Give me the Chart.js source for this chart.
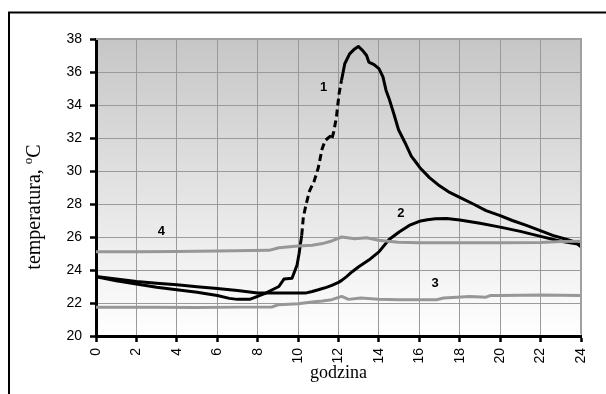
<!DOCTYPE html>
<html>
<head>
<meta charset="utf-8">
<script src="https://cdn.jsdelivr.net/npm/chart.js@4"></script>
<style>
  html, body { margin: 0; padding: 0; background: #fff; }
  #wrap { position: relative; width: 606px; height: 394px; }
  canvas { display: block; }
</style>
</head>
<body>
<div id="wrap"><canvas id="c" width="606" height="394"></canvas></div>
<script>
// ---- data (hour of day, temperature °C) ----
const xTicks = [0, 2, 4, 6, 8, 10, 12, 14, 16, 18, 20, 22, 24];
const yTicks = [20, 22, 24, 26, 28, 30, 32, 34, 36, 38];

const s1Hours = [0, 1, 2, 3, 4, 5, 6, 6.6, 7.0, 7.6, 7.9, 8.4, 8.8, 9.05, 9.3, 9.7, 9.95, 10.05, 10.12, 10.18, 10.26, 10.4, 10.57, 10.8, 11.0, 11.18, 11.34, 11.58, 11.66, 11.77, 11.9, 12.03, 12.15, 12.31, 12.55, 12.8, 12.98, 13.2, 13.39, 13.5, 13.76, 14.0, 14.2, 14.35, 14.5, 14.73, 14.97, 15.3, 15.6, 15.85, 16.03, 16.5, 17.0, 17.5, 18.0, 18.67, 19.3, 20.0, 20.6, 21.3, 21.95, 22.6, 23.3, 23.7, 24];
const s1Temp  = [23.6, 23.35, 23.15, 22.95, 22.8, 22.65, 22.45, 22.28, 22.22, 22.22, 22.36, 22.6, 22.85, 23.0, 23.45, 23.5, 24.3, 25.0, 25.6, 26.1, 27.2, 28.0, 28.8, 29.4, 30.2, 31.3, 31.85, 32.1, 31.9, 32.4, 33.3, 34.7, 35.5, 36.5, 37.1, 37.4, 37.55, 37.3, 37.0, 36.6, 36.45, 36.2, 35.7, 34.9, 34.4, 33.5, 32.5, 31.7, 30.9, 30.5, 30.2, 29.6, 29.1, 28.7, 28.4, 28.0, 27.6, 27.3, 27.0, 26.7, 26.4, 26.1, 25.85, 25.7, 25.4];

const s2Hours = [0, 1, 2, 3, 4, 5, 6, 7, 8, 9, 10.36, 10.7, 11.0, 11.4, 11.67, 12.0, 12.16, 12.4, 12.66, 13.0, 13.5, 14.0, 14.5, 15.0, 15.5, 16.0, 16.4, 16.8, 17.35, 18.0, 19.0, 20.0, 21.0, 22.0, 23.0, 24];
const s2Temp  = [23.6, 23.45, 23.3, 23.2, 23.1, 22.98, 22.88, 22.76, 22.6, 22.6, 22.6, 22.7, 22.8, 22.95, 23.07, 23.25, 23.37, 23.6, 23.88, 24.2, 24.6, 25.1, 25.85, 26.3, 26.7, 26.95, 27.05, 27.1, 27.12, 27.03, 26.83, 26.6, 26.34, 26.04, 25.74, 25.55];

const s3Hours = [0, 3, 5, 7, 8.7, 9.05, 10, 10.7, 11.2, 11.67, 12.16, 12.5, 13.1, 14, 15, 16, 16.86, 17.2, 18.5, 19.3, 19.5, 20, 22, 24];
const s3Temp  = [21.75, 21.75, 21.73, 21.75, 21.76, 21.9, 21.95, 22.06, 22.12, 22.2, 22.4, 22.22, 22.3, 22.22, 22.2, 22.2, 22.2, 22.3, 22.4, 22.35, 22.45, 22.45, 22.48, 22.45];

const s4Hours = [0, 2, 4, 6, 8.56, 9.05, 10, 10.7, 11.2, 11.67, 12.16, 12.8, 13.4, 13.97, 14.95, 16, 18, 20, 22, 23, 24];
const s4Temp  = [25.1, 25.1, 25.12, 25.15, 25.19, 25.35, 25.45, 25.5, 25.6, 25.76, 26.0, 25.9, 25.95, 25.8, 25.68, 25.65, 25.65, 25.65, 25.67, 25.72, 25.75];

// curve labels: text, hour, temperature
const curveLabels = ['1', '2', '3', '4'];
const curveLabelHours = [11.26, 15.08, 16.78, 3.23];
const curveLabelTemps = [35.05, 27.43, 23.16, 26.36];

const dashFrom = 10.15, dashTo = 12.3;

function pts(h, t) { return h.map((x, i) => ({ x: x, y: t[i] })); }

const frame = {
  id: 'frame',
  beforeDraw(chart) {
    const ctx = chart.ctx, a = chart.chartArea;
    ctx.save();
    const g = ctx.createLinearGradient(0, a.top, 0, a.bottom);
    g.addColorStop(0, '#c6c6c6');
    g.addColorStop(1, '#ffffff');
    ctx.fillStyle = g;
    ctx.fillRect(a.left, a.top, a.right - a.left, a.bottom - a.top);
    // outer picture border (top and left visible)
    ctx.strokeStyle = '#000';
    ctx.lineWidth = 2;
    ctx.beginPath();
    ctx.moveTo(9, 394); ctx.lineTo(9, 12.5); ctx.lineTo(606, 12.5);
    ctx.stroke();
    ctx.restore();
  },
  afterDatasetsDraw(chart) {
    const ctx = chart.ctx, a = chart.chartArea;
    const xs = chart.scales.x, ys = chart.scales.y;
    ctx.save();
    // plot frame top/right in grey
    ctx.strokeStyle = '#a0a0a0';
    ctx.lineWidth = 2;
    ctx.beginPath();
    ctx.moveTo(a.left, a.top); ctx.lineTo(a.right, a.top); ctx.lineTo(a.right, a.bottom - 2);
    ctx.stroke();
    ctx.fillStyle = '#000';
    ctx.font = 'bold 13px "Liberation Sans", Arial, sans-serif';
    ctx.textAlign = 'center';
    ctx.textBaseline = 'middle';
    curveLabels.forEach((t, i) => {
      ctx.fillText(t, xs.getPixelForValue(curveLabelHours[i]), ys.getPixelForValue(curveLabelTemps[i]));
    });
    // axis titles
    ctx.font = '18px "Liberation Serif", "Times New Roman", serif';
    ctx.textBaseline = 'alphabetic';
    ctx.fillText('godzina', (a.left + a.right) / 2, 378);
    // y title with superscript o
    const main = 'temperatura, ';
    const big = '20px "Liberation Serif", "Times New Roman", serif';
    const small = '13px "Liberation Serif", "Times New Roman", serif';
    ctx.font = big;
    const w1 = ctx.measureText(main).width;
    const wC = ctx.measureText('C').width;
    ctx.font = small;
    const wo = ctx.measureText('o').width;
    const total = w1 + wo + wC;
    ctx.translate(40, 207);
    ctx.rotate(-Math.PI / 2);
    ctx.textAlign = 'left';
    let x0 = -total / 2;
    ctx.font = big;
    ctx.fillText(main, x0, 0);
    ctx.font = small;
    ctx.fillText('o', x0 + w1, -8);
    ctx.font = big;
    ctx.fillText('C', x0 + w1 + wo, 0);
    ctx.restore();
  }
};

const segDash = {
  borderDash: ctx => (ctx.p0.parsed.x >= dashFrom && ctx.p1.parsed.x <= dashTo) ? [7, 4] : undefined
};

new Chart(document.getElementById('c'), {
  type: 'line',
  data: {
    datasets: [
      { label: '4', data: pts(s4Hours, s4Temp), borderColor: '#979797', borderWidth: 3 },
      { label: '3', data: pts(s3Hours, s3Temp), borderColor: '#979797', borderWidth: 3 },
      { label: '2', data: pts(s2Hours, s2Temp), borderColor: '#000', borderWidth: 3 },
      { label: '1', data: pts(s1Hours, s1Temp), borderColor: '#000', borderWidth: 3, segment: segDash }
    ]
  },
  options: {
    responsive: false,
    animation: false,
    events: [],
    layout: { padding: { left: 0, right: 25, top: 39, bottom: 0 } },
    elements: { point: { radius: 0 }, line: { tension: 0, borderJoinStyle: 'round', borderCapStyle: 'butt' } },
    plugins: { legend: { display: false }, tooltip: { enabled: false } },
    scales: {
      x: {
        type: 'linear', min: 0, max: 24,
        afterBuildTicks: s => { s.ticks = xTicks.map(v => ({ value: v })); },
        afterFit: s => { s.height = 58; },
        grid: { color: '#9a9a9a', lineWidth: 1, tickColor: '#000', tickLength: 6, tickWidth: 2.5 },
        border: { color: '#000', width: 3 },
        ticks: { autoSkip: false, minRotation: 90, maxRotation: 90, padding: 6, color: '#000',
                 font: { family: '"Liberation Sans", Arial, sans-serif', size: 14 } }
      },
      y: {
        min: 20, max: 38,
        afterBuildTicks: s => { s.ticks = yTicks.map(v => ({ value: v })); },
        afterFit: s => { s.width = 96; },
        grid: { color: '#9a9a9a', lineWidth: 1, tickColor: '#000', tickLength: 6, tickWidth: 2.5 },
        border: { color: '#000', width: 3 },
        ticks: { padding: 8, color: '#000',
                 font: { family: '"Liberation Sans", Arial, sans-serif', size: 14 } }
      }
    }
  },
  plugins: [frame]
});
</script>
</body>
</html>
